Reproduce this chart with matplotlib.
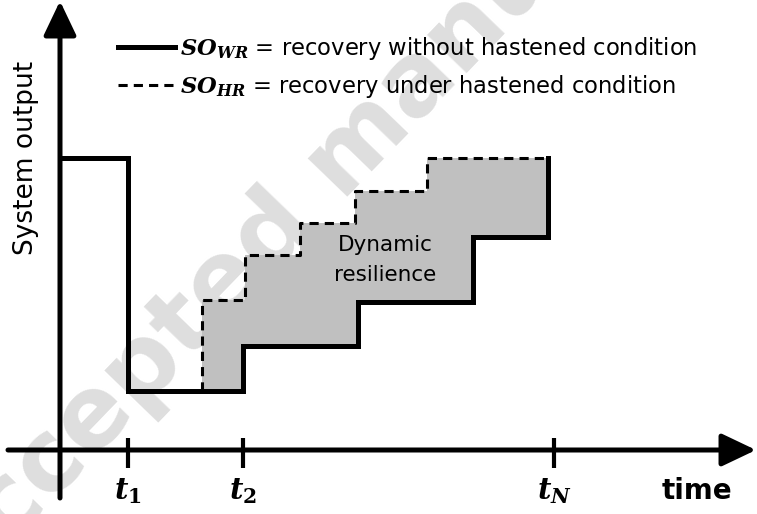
import matplotlib
matplotlib.use('Agg')
import matplotlib.pyplot as plt
from matplotlib.lines import Line2D
import numpy as np

plt.rcParams['mathtext.fontset'] = 'dejavuserif'

# schematic units: origin where the two axes cross
# recovery without hastened condition (steps-post)
wr_t = [0, 6.8, 18.3, 29.8, 41.3, 48.8]
wr_y = [29.2, 5.9, 10.4, 14.8, 21.3, 29.2]

# recovery under hastened condition (steps-post)
hr_t = [14.2, 14.2, 18.5, 24.0, 29.5, 36.7, 48.8]
hr_y = [5.9, 15.0, 19.5, 22.7, 25.9, 29.2, 29.2]

tick_t = [6.8, 18.3, 49.4]
tick_lbl = [r'$\mathbfit{t}_\mathbf{1}$', r'$\mathbfit{t}_\mathbf{2}$',
            r'$\mathbfit{t}_\mathbfit{N}$']

lbl_wr = r'$\mathbfit{SO}_{\mathbfit{WR}}$ = recovery without hastened condition'
lbl_hr = r'$\mathbfit{SO}_{\mathbfit{HR}}$ = recovery under hastened condition'

fig = plt.figure(figsize=(7.57, 5.14), dpi=100)
ax = fig.add_axes([0, 0, 1, 1])
ax.set_xlim(-6.0, 69.7)
ax.set_ylim(-6.4, 45.0)
ax.axis('off')

# watermark
ax.text(29.0, 29.5, 'Accepted manuscript', rotation=46, fontsize=72,
        weight='bold', color='#dedede', ha='center', va='center',
        rotation_mode='anchor', zorder=0)

# shaded area between the two recovery curves
def step_val(t, y, x):
    idx = np.searchsorted(t, x, side='right') - 1
    return np.asarray(y)[idx]

grid = np.unique(np.concatenate([hr_t, [v for v in wr_t if v >= hr_t[0]]]))
top = step_val(np.array(hr_t), hr_y, grid)
bot = step_val(np.array(wr_t), wr_y, grid)
ax.fill_between(grid, bot, top, step='post', color='#c0c0c0', lw=0, zorder=1)

ax.plot(hr_t, hr_y, drawstyle='steps-post', color='k', lw=2.2,
        linestyle=(0, (3, 2)), zorder=2)
ax.plot(wr_t, wr_y, drawstyle='steps-post', color='k', lw=3.6,
        solid_joinstyle='miter', zorder=3)

# axes with arrows
arr = dict(arrowstyle='-|>,head_length=1.05,head_width=0.5', lw=3.6,
           color='k', shrinkA=0, shrinkB=0, mutation_scale=20)
ax.annotate('', xy=(69.6, 0), xytext=(-5.2, 0), arrowprops=arr, zorder=4,
            annotation_clip=False)
ax.annotate('', xy=(0, 44.9), xytext=(0, -4.8), arrowprops=arr, zorder=4,
            annotation_clip=False)

ax.vlines(tick_t, -1.8, 1.2, color='k', lw=3, zorder=4)
for x, s in zip(tick_t, tick_lbl):
    ax.text(x, -4.1, s, fontsize=21, ha='center', va='center')

ax.text(63.7, -4.1, 'time', fontsize=20, weight='bold', ha='center', va='center')
ax.text(-3.4, 29.2, 'System output', fontsize=19, rotation=90,
        ha='center', va='center')
ax.text(32.5, 19.0, 'Dynamic\nresilience', fontsize=15.5, ha='center',
        va='center', linespacing=1.65)

handles = [Line2D([], [], color='k', lw=3.6),
           Line2D([], [], color='k', lw=2.2, linestyle=(0, (3, 2)))]
ax.legend(handles, [lbl_wr, lbl_hr], loc='upper left',
          bbox_to_anchor=(0.156, 0.932), frameon=False, fontsize=16.3,
          borderpad=0, borderaxespad=0, handlelength=2.5,
          handletextpad=0.25, labelspacing=0.48)

fig.savefig('out.png', dpi=100)
